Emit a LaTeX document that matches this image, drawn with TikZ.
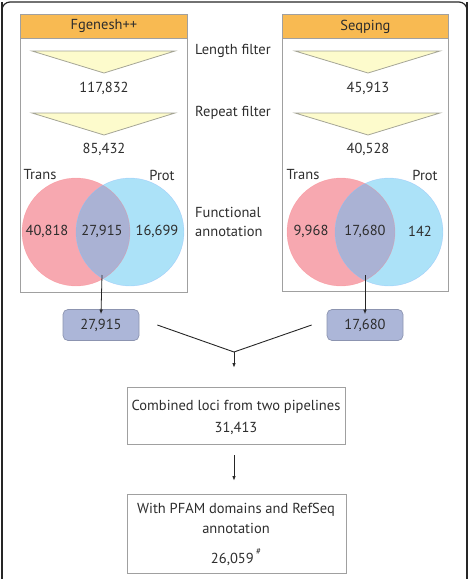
\documentclass[tikz,border=0pt]{standalone}
\usepackage{fontspec}
\setmainfont{PT Sans}
\usetikzlibrary{arrows.meta}
\definecolor{hdr}{RGB}{248,186,82}
\definecolor{tri}{RGB}{253,251,204}
\definecolor{trib}{RGB}{165,165,150}
\definecolor{pinkc}{RGB}{247,168,176}
\definecolor{bluec}{RGB}{172,226,248}
\definecolor{interc}{RGB}{170,178,212}
\definecolor{boxf}{RGB}{172,182,216}
\definecolor{boxb}{RGB}{140,148,176}
\definecolor{txt}{RGB}{45,45,45}
\definecolor{panelb}{RGB}{160,160,160}
\tikzset{
  every node/.style={text=txt, font=\fontsize{14.5}{17}\selectfont, inner sep=1pt},
  panel/.style={draw=panelb, line width=0.8pt},
  header/.style={draw=panelb, fill=hdr, line width=0.8pt},
  filt/.style={draw=trib, fill=tri, line width=0.8pt},
  numbox/.style={draw=boxb, fill=boxf, rounded corners=5pt, line width=0.7pt, minimum width=76pt, minimum height=31pt, inner sep=0pt},
  flowbox/.style={draw=panelb, line width=0.8pt, inner sep=0pt, align=center},
  arr/.style={-{Latex[length=4.5pt,width=3.5pt]}, line width=0.8pt, draw=black!85},
  conn/.style={line width=0.9pt, draw=black!85},
}
\begin{document}
\begin{tikzpicture}[x=1pt,y=-1pt]
\useasboundingbox (0,0) rectangle (469,579);
% outer frame
\draw[line width=1.2pt, draw=black!85, rounded corners=8pt] (2,2) -- (2,600) (467,600) -- (467,2);
\draw[line width=1.2pt, draw=black!85, rounded corners=8pt] (2,300) -- (2,2) -- (467,2) -- (467,300);

% ---------- left panel ----------
\draw[panel] (20,14) rectangle (187,292);
\node[header, minimum width=167pt, minimum height=24pt, inner sep=0pt, anchor=north west] (lh) at (20,14) {Fgenesh++};
\draw[filt] (32,51) -- (175,51) -- (104,73) -- cycle;
\node (ln1) at (104,88) {117,832};
\draw[filt] (32,113) -- (175,113) -- (104,135) -- cycle;
\node (ln2) at (104,149) {85,432};
\fill[pinkc] (76,232) circle (54);
\fill[bluec] (130,232) circle (54);
\begin{scope}
  \clip (76,232) circle (54);
  \fill[interc] (130,232) circle (54);
\end{scope}
\draw[pinkc!80!red, line width=0.4pt, opacity=0.5] (76,232) circle (54);
\draw[bluec!80!blue, line width=0.4pt, opacity=0.5] (130,232) circle (54);
\node (lt) at (40,175) {Trans};
\node (lp) at (162,175) {Prot};
\node (la) at (47,231) {40,818};
\node (lb) at (102,231) {27,915};
\node (lc) at (157,231) {16,699};
\coordinate (lv) at (102,275);
\node[numbox] (lbox) at (101,325) {27,915};
\draw[arr] (lv) -- ([yshift=-5pt]lbox.north);

% ---------- right panel ----------
\draw[panel] (282,14) rectangle (448,291);
\node[header, minimum width=166pt, minimum height=24pt, inner sep=0pt, anchor=north west] (rh) at (282,14) {Seqping};
\draw[filt] (295,51) -- (440,51) -- (368,73) -- cycle;
\node (rn1) at (368,88) {45,913};
\draw[filt] (295,113) -- (440,113) -- (368,135) -- cycle;
\node (rn2) at (368,149) {40,528};
\fill[pinkc] (341,232) circle (54);
\fill[bluec] (389,232) circle (54);
\begin{scope}
  \clip (341,232) circle (54);
  \fill[interc] (389,232) circle (54);
\end{scope}
\draw[pinkc!80!red, line width=0.4pt, opacity=0.5] (341,232) circle (54);
\draw[bluec!80!blue, line width=0.4pt, opacity=0.5] (389,232) circle (54);
\node (rt) at (303,175) {Trans};
\node (rp) at (425,175) {Prot};
\node (ra) at (311,231) {9,968};
\node (rb) at (365,231) {17,680};
\node (rc) at (420,231) {142};
\coordinate (rv) at (365,275);
\node[numbox] (rbox) at (365,325) {17,680};
\draw[arr] (rv) -- ([yshift=-5pt]rbox.north);

% ---------- middle labels ----------
\node[anchor=west] (lf) at (194,51) {Length filter};
\node[anchor=west] (rf) at (194,113) {Repeat filter};
\node[anchor=west, align=left, font=\fontsize{14.5}{19}\selectfont] (fa) at (194,222) {Functional\\annotation};

% ---------- merge ----------
\coordinate (j) at (234,352);
\draw[conn] ([xshift=18pt]lbox.east) -- (j);
\draw[conn] ([xshift=-15pt]rbox.west) -- (j);
\node[flowbox, minimum width=218pt, minimum height=57pt] (comb) at (236,415.5) {};
\node (c1) at (236,407) {Combined loci from two pipelines};
\node (c2) at (236,428) {31,413};
\draw[arr, shorten >=19pt] (j) -- (j |- comb.north);

\node[flowbox, minimum width=219pt, minimum height=79pt] (fin) at (236.5,533.5) {};
\node (f1) at (236,510) {With PFAM domains and RefSeq};
\node (f2) at (236,528) {annotation};
\node (f3) at (236,557) {26,059\,\raisebox{1.2ex}{\fontsize{9}{10}\selectfont\#}};
\draw[arr, shorten <=11pt, shorten >=13pt] (comb.south -| j) -- (fin.north -| j);
\end{tikzpicture}
\end{document}
